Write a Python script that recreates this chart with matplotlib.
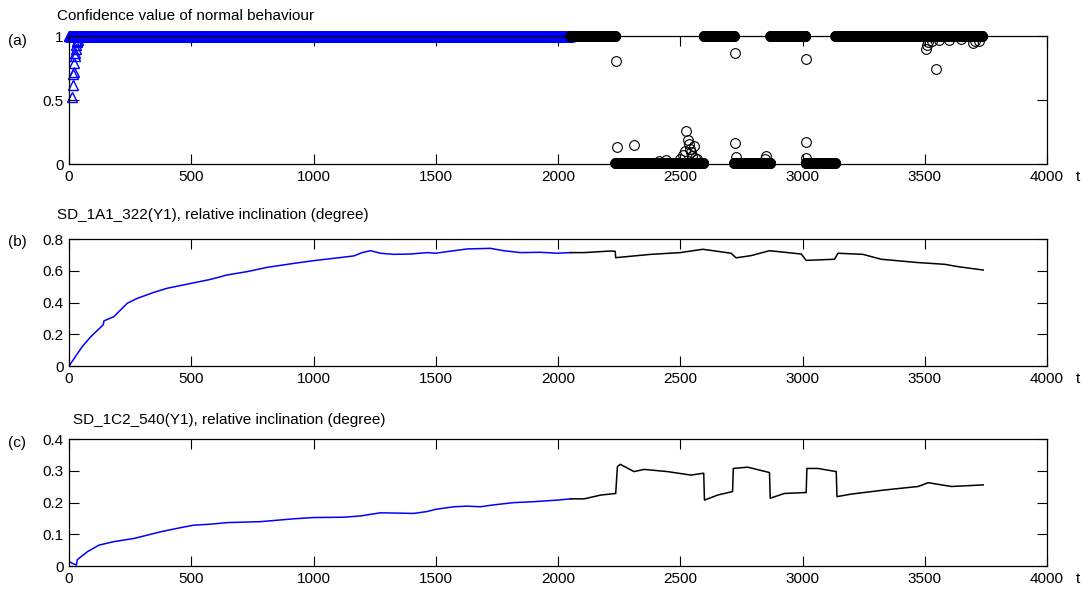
import numpy as np
import matplotlib
matplotlib.use('Agg')
import matplotlib.pyplot as plt
from matplotlib.ticker import FormatStrFormatter

plt.rcParams['font.family'] = ['Liberation Sans', 'DejaVu Sans']
plt.rcParams['font.size'] = 11

# ---- (a) confidence value, one sample per t ----
t_end = 3740
t_split = 2051            # blue (normal) up to here, black afterwards
ramp_t = [14, 16, 18, 20, 22, 24, 26, 28, 30, 32, 34, 38, 42]
ramp_v = [0.52, 0.62, 0.70, 0.72, 0.79, 0.84, 0.87, 0.90, 0.93, 0.95, 0.96, 0.97, 0.99]
# (start, end, level) of the black part
conf_segments = [(2051, 2234, 1.0), (2235, 2595, 0.01), (2596, 2719, 1.0),
                 (2720, 2868, 0.01), (2869, 3012, 1.0), (3013, 3133, 0.01),
                 (3134, 3735, 1.0)]
# scattered samples off the two levels
extra_t = [2239, 2241, 2312, 2415, 2442, 2500, 2510, 2518, 2524, 2530, 2535,
           2540, 2545, 2550, 2555, 2560, 2570, 2725, 2725, 2728, 2845, 2852,
           3015, 3015, 3016, 3505, 3509, 3515, 3530, 3547, 3560, 3600, 3650,
           3699, 3705, 3720]
extra_v = [0.805, 0.135, 0.148, 0.025, 0.03, 0.04, 0.07, 0.10, 0.257, 0.19, 0.16,
           0.12, 0.09, 0.06, 0.14, 0.05, 0.04, 0.87, 0.166, 0.057, 0.04, 0.06,
           0.818, 0.174, 0.044, 0.90, 0.93, 0.95, 0.96, 0.74, 0.97, 0.97, 0.975,
           0.945, 0.96, 0.96]

# ---- (b) SD_1A1_322 ----
b_t = [0, 54, 89, 140, 143, 184, 238, 279, 347, 402, 500, 579, 647, 729, 811,
       920, 1000, 1083, 1165, 1199, 1233, 1274, 1328, 1396, 1465, 1500, 1546,
       1628, 1723, 1778, 1846, 1928, 1996, 2052, 2107, 2216, 2234, 2236, 2311,
       2380, 2500, 2592, 2708, 2728, 2790, 2865, 2995, 3015, 3131, 3145, 3247,
       3322, 3473, 3582, 3637, 3739]
b_v = [0.0, 0.122, 0.185, 0.26, 0.285, 0.312, 0.396, 0.427, 0.465, 0.491, 0.522,
       0.547, 0.575, 0.596, 0.623, 0.648, 0.665, 0.680, 0.695, 0.716, 0.728,
       0.712, 0.705, 0.707, 0.716, 0.712, 0.722, 0.739, 0.743, 0.728, 0.716,
       0.718, 0.712, 0.716, 0.716, 0.726, 0.724, 0.684, 0.695, 0.705, 0.716,
       0.737, 0.712, 0.683, 0.697, 0.728, 0.707, 0.667, 0.674, 0.712, 0.705,
       0.674, 0.653, 0.642, 0.627, 0.606]

# ---- (c) SD_1C2_540 ----
c_t = [0, 15, 30, 34, 75, 123, 184, 266, 375, 443, 511, 579, 647, 783, 920,
       1000, 1124, 1192, 1274, 1410, 1465, 1500, 1574, 1628, 1683, 1737, 1819,
       1900, 1996, 2052, 2107, 2175, 2236, 2243, 2255, 2311, 2352, 2448, 2544,
       2596, 2599, 2653, 2714, 2717, 2776, 2865, 2868, 2926, 3015, 3018, 3063,
       3138, 3141, 3199, 3336, 3473, 3514, 3609, 3739]
c_v = [0.014, 0.008, 0.003, 0.02, 0.045, 0.066, 0.077, 0.087, 0.108, 0.119,
       0.129, 0.132, 0.137, 0.140, 0.149, 0.153, 0.154, 0.158, 0.168, 0.166,
       0.172, 0.179, 0.187, 0.189, 0.187, 0.193, 0.200, 0.203, 0.208, 0.212,
       0.212, 0.224, 0.229, 0.314, 0.321, 0.298, 0.305, 0.298, 0.287, 0.293,
       0.208, 0.224, 0.235, 0.308, 0.312, 0.295, 0.214, 0.229, 0.232, 0.308,
       0.308, 0.298, 0.219, 0.227, 0.240, 0.251, 0.263, 0.251, 0.256]

# build sample series for (a)
t_all = np.arange(1, t_end + 1)
conf = np.ones(t_end)
for tt, vv in zip(ramp_t, ramp_v):
    conf[tt - 1] = vv
for s, e, lev in conf_segments:
    conf[s - 1:e] = lev
blue = t_all < t_split
black = (t_all >= t_split) & (t_all <= conf_segments[-1][1])

fig = plt.figure(figsize=(10.88, 5.9), dpi=100)
W, H = 1088.0, 590.0
x0, x1 = 69.0, 1047.0
boxes = [(36.0, 164.0), (239.3, 366.0), (439.3, 566.0)]
axs = [fig.add_axes([x0 / W, 1 - b / H, (x1 - x0) / W, (b - t) / H]) for t, b in boxes]

for ax in axs:
    ax.set_xlim(0, 4000)
    ax.set_xticks(np.arange(0, 4001, 500))
    ax.tick_params(direction='in', top=True, right=True, length=7, width=0.8,
                   pad=4, labelsize=11)
    ax.yaxis.set_major_formatter(FormatStrFormatter('%g'))
    for sp in ax.spines.values():
        sp.set_linewidth(0.9)
    ax.annotate('t', xy=(1, 0), xycoords='axes fraction', xytext=(21, -4),
                textcoords='offset points', ha='left', va='top', fontsize=11)

ax = axs[0]
ax.plot(t_all[blue], conf[blue], '^', color='b', mfc='none', ms=7.5, mew=1.0,
        clip_on=False)
ax.plot(t_all[black], conf[black], 'o', color='k', mfc='none', ms=7, mew=0.8,
        clip_on=False)
ax.plot(extra_t, extra_v, 'o', color='k', mfc='none', ms=7, mew=0.8, clip_on=False)
ax.set_ylim(0, 1)
ax.set_yticks([0, 0.5, 1])

b_t = np.array(b_t); b_v = np.array(b_v)
c_t = np.array(c_t); c_v = np.array(c_v)
for ax, tt, vv, top, ticks in [(axs[1], b_t, b_v, 0.8, np.arange(0, 0.81, 0.2)),
                               (axs[2], c_t, c_v, 0.4, np.arange(0, 0.41, 0.1))]:
    m = tt <= 2052
    ax.plot(tt[m], vv[m], color='b', lw=1.1)
    ax.plot(tt[tt >= 2052], vv[tt >= 2052], color='k', lw=1.1)
    ax.set_ylim(0, top)
    ax.set_yticks(ticks)

fig.text(57 / W, 1 - 16 / H, 'Confidence value of normal behaviour', va='center', ha='left')
fig.text(57 / W, 1 - 215 / H, 'SD_1A1_322(Y1), relative inclination (degree)', va='center', ha='left')
fig.text(73 / W, 1 - 420 / H, 'SD_1C2_540(Y1), relative inclination (degree)', va='center', ha='left')
for lab, y in [('(a)', 41), ('(b)', 242), ('(c)', 443)]:
    fig.text(8 / W, 1 - y / H, lab, va='center', ha='left')

fig.savefig('out.png', dpi=100)
